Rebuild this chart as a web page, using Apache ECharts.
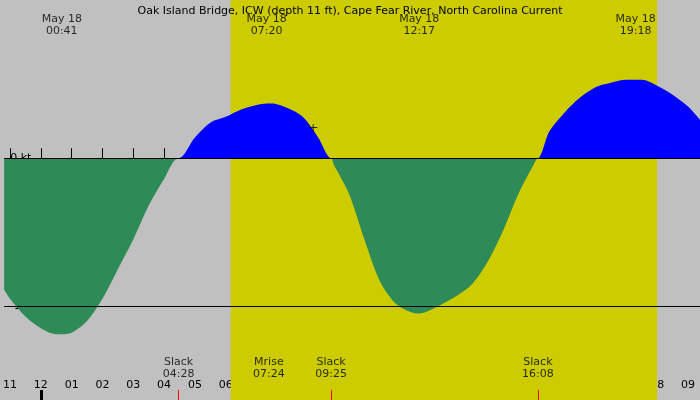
<!DOCTYPE html>
<html><head><meta charset="utf-8">
<script src="https://cdn.jsdelivr.net/npm/echarts@6/dist/echarts.min.js"></script>
<style>html,body{margin:0;padding:0;background:#c0c0c0}#c{width:700px;height:400px}</style>
</head><body><div id="c"></div>
<script>
const title = "Oak Island Bridge, ICW (depth 11 ft), Cape Fear River, North Carolina Current";
const times = [-1.19,-1,-0.5,0,0.5,0.68,1,1.5,2,2.5,3,3.5,4,4.47,5,5.5,6,6.5,7,7.33,7.5,8,8.5,9,9.42,9.5,10,10.5,11,11.5,12,12.28,12.5,13,13.5,14,14.5,15,15.5,16,16.13,16.5,17,17.5,18,18.5,19,19.3,19.5,20,20.5,21,21.39];
const speeds = [-0.89,-0.95,-1.07,-1.15,-1.19,-1.19,-1.18,-1.10,-0.95,-0.75,-0.55,-0.32,-0.14,0,0.14,0.24,0.28,0.33,0.36,0.37,0.37,0.34,0.28,0.14,0,-0.04,-0.24,-0.55,-0.83,-0.98,-1.04,-1.05,-1.04,-0.99,-0.93,-0.85,-0.70,-0.49,-0.24,-0.04,0,0.18,0.31,0.41,0.48,0.51,0.53,0.53,0.53,0.49,0.43,0.35,0.26];
const topEvents = [[0.68,"May 18\n00:41"],[7.33,"May 18\n07:20"],[12.28,"May 18\n12:17"],[19.3,"May 18\n19:18"]];
const bottomEvents = [[4.47,"Slack\n04:28"],[7.4,"Mrise\n07:24"],[9.42,"Slack\n09:25"],[16.13,"Slack\n16:08"],[21.9,"Slack\n21:52"]];
const slackTimes = [4.47,9.42,16.13];
const hourTicks = [-1,0,1,2,3,4,5,6,7,8,9,10,11,12,13,14,15,16,17,18,19,20,21];
const dayStart = 6.16, dayEnd = 20.0;
const xMin = -1.19, xMax = 21.39;
const font = "DejaVu Sans";

const pos = times.map((t,i)=>[t, Math.max(speeds[i],0)]);
const neg = times.map((t,i)=>[t, Math.min(speeds[i],0)]);
const hourLabel = h => { let v = ((h%12)+12)%12; if (v===0) v=12; return String(v).padStart(2,'0'); };

const chart = echarts.init(document.getElementById('c'));
chart.setOption({
  backgroundColor:'#c0c0c0',
  animation:false,
  textStyle:{fontFamily:font},
  title:{text:title,left:'center',top:1,textStyle:{fontFamily:font,fontSize:11,fontWeight:'normal',color:'#000'}},
  grid:{left:0,right:0,top:0,bottom:0},
  xAxis:{type:'value',min:xMin,max:xMax,
    axisLine:{show:false},splitLine:{show:false},
    axisTick:{show:true,inside:true,length:10,customValues:hourTicks,lineStyle:{color:'#000'}},
    axisLabel:{inside:true,margin:9,customValues:hourTicks,formatter:v=>hourLabel(Math.round(v)),fontSize:11,color:'#000',fontFamily:font}},
  yAxis:[{type:'value',min:-1.635,max:1.07,axisLine:{show:false},splitLine:{show:false},axisTick:{show:false},
    axisLabel:{inside:true,margin:6,customValues:[0,-1],formatter:v=>Math.round(v)+' kt',fontSize:11,color:'#000',fontFamily:font,verticalAlign:'middle'}},
    {type:'value',min:0,max:400,inverse:true,show:false}],
  series:[
    {type:'line',data:[],z:1,
      markArea:{silent:true,itemStyle:{color:'#cccc00'},data:[[{xAxis:dayStart},{xAxis:dayEnd}]]},
      markLine:{silent:true,symbol:'none',label:{show:false},lineStyle:{color:'#000',width:1,type:'solid'},data:[{yAxis:0},{yAxis:-1}]}},
    {type:'line',data:neg,smooth:0.3,symbol:'none',lineStyle:{width:0},areaStyle:{color:'#2e8b57',opacity:1,origin:0},z:3},
    {type:'line',data:pos,smooth:0.3,symbol:'none',lineStyle:{width:0},areaStyle:{color:'#0000ff',opacity:1,origin:0},z:3},
    {type:'line',yAxisIndex:1,data:[],z:4,
      markLine:{silent:true,symbol:'none',label:{show:false},data:
        slackTimes.map(t=>[{coord:[t,390],lineStyle:{color:'#ff0000',width:1,type:'solid'}},{coord:[t,400]}])
        .concat([[{coord:[0,390],lineStyle:{color:'#000',width:3,type:'solid'}},{coord:[0,400]}]])}},
    {type:'scatter',yAxisIndex:1,symbolSize:0,z:5,
      data:topEvents.map(e=>({value:[e[0],25],name:e[1]})),
      label:{show:true,position:'inside',formatter:p=>p.name,fontSize:11,color:'#000',fontFamily:font,lineHeight:12,align:'center'}},
    {type:'scatter',yAxisIndex:1,symbolSize:0,z:5,
      data:bottomEvents.map(e=>({value:[e[0],368],name:e[1]})),
      label:{show:true,position:'inside',formatter:p=>p.name,fontSize:11,color:'#000',fontFamily:font,lineHeight:12,align:'center'}},
    {type:'scatter',yAxisIndex:1,symbolSize:0,z:5,data:[{value:[8.84,129],name:'+'}],
      label:{show:true,position:'inside',formatter:'+',fontSize:13,color:'#000'}}
  ]
});
</script></body></html>
